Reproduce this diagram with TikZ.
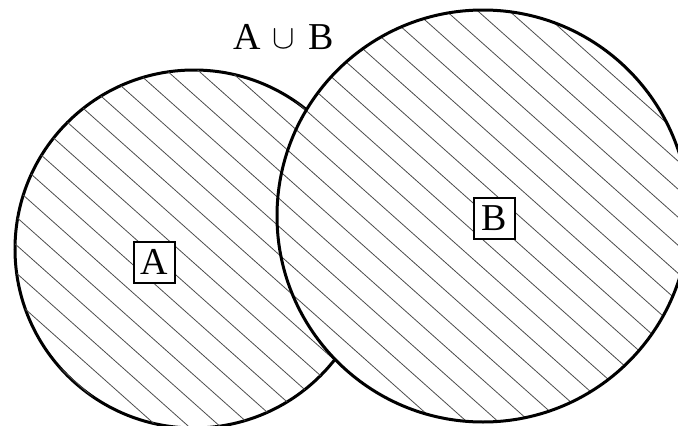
\documentclass[tikz,border=0pt]{standalone}
\usepackage{fontspec}
\setmainfont{Liberation Serif}
\begin{document}
\begin{tikzpicture}
  [x=1pt,y=-1pt,
   outline/.style={line width=3pt},
   hatch/.style={line width=0.8pt,black!70},
   setname/.style={draw,line width=2pt,fill=white,minimum size=41pt,inner sep=0pt,
     font=\fontsize{38}{40}\selectfont}]
  \useasboundingbox (0,0) rectangle (678,426);
  \coordinate (cA) at (194,249);
  \coordinate (cB) at (483,216);

  % outline of A, its part inside B is covered
  \draw[outline] (cA) circle [radius=179pt];
  \fill[white] (cB) circle [radius=206pt];

  % hatching of the union
  \begin{scope}
    \clip (cA) circle [radius=179pt] (cB) circle [radius=206pt];
    \foreach \x in {-700,-668.5,...,700}
      \draw[hatch] (\x,0) ++(-200,-178) -- ++(1200,1068);
  \end{scope}
  \draw[outline] (cB) circle [radius=206pt];

  \node[setname] (nameA) at (154,262) {A};
  \node[setname] (nameB) at (494,218) {B};
  \node[font=\fontsize{38}{40}\selectfont] (union) at (284,37)
    {A\hspace{11pt}\raisebox{1pt}{\scalebox{1.35}{$\cup$}}\hspace{14pt}B};
\end{tikzpicture}
\end{document}
